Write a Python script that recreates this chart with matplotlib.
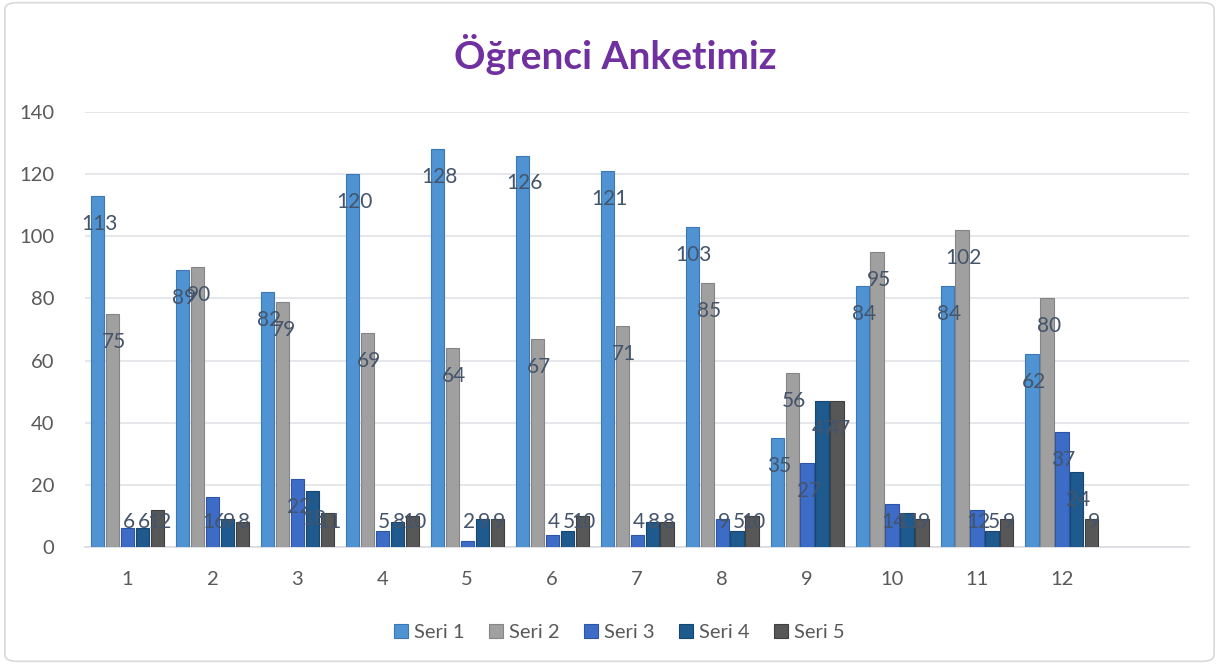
import matplotlib.pyplot as plt
import numpy as np
from matplotlib.patches import FancyBboxPatch

plt.rcParams["font.family"] = ["Lato", "DejaVu Sans"]

categories = ["1", "2", "3", "4", "5", "6", "7", "8", "9", "10", "11", "12"]
seri1 = [113, 89, 82, 120, 128, 126, 121, 103, 35, 84, 84, 62]
seri2 = [75, 90, 79, 69, 64, 67, 71, 85, 56, 95, 102, 80]
seri3 = [6, 16, 22, 5, 2, 4, 4, 9, 27, 14, 12, 37]
seri4 = [6, 9, 18, 8, 9, 5, 8, 5, 47, 11, 5, 24]
seri5 = [12, 8, 11, 10, 9, 10, 8, 10, 47, 9, 9, 9]
series_names = ["Seri 1", "Seri 2", "Seri 3", "Seri 4", "Seri 5"]

colors = ["#4f93d3", "#a0a0a0", "#3d6cc6", "#1e5a8e", "#575757"]
edges = ["#3b78b5", "#858585", "#2d55a3", "#17466f", "#404040"]
text_color = "#44546a"

fig = plt.figure(figsize=(12.19, 6.64), dpi=100)
ax = fig.add_axes([0.0697, 0.1762, 0.906, 0.6551])

x = np.arange(len(categories))
slot = 0.176
width = 0.155
for i, (name, vals) in enumerate(zip(series_names, [seri1, seri2, seri3, seri4, seri5])):
    pos = x + (i - 2) * slot
    ax.bar(pos, vals, width, color=colors[i], edgecolor=edges[i], linewidth=0.8,
           label=name, zorder=3)
    for p, v in zip(pos, vals):
        ax.text(p + 0.02, max(v - 9, 8), str(v), ha="center", va="center",
                fontsize=15, color=text_color, zorder=4)

ax.set_ylim(0, 140)
ax.set_xlim(-0.5, len(categories) + 0.5)
ax.set_yticks(range(0, 141, 20))
ax.set_xticks(x)
ax.set_xticklabels(categories)
ax.tick_params(axis="both", length=0, labelsize=14.5, labelcolor="#595959")
ax.tick_params(axis="x", pad=17)
ax.tick_params(axis="y", pad=22)
ax.grid(axis="y", color="#e0e3e8", linewidth=1.2, zorder=0)
for s in ["left", "right", "top"]:
    ax.spines[s].set_visible(False)
ax.spines["bottom"].set_color("#d9dce1")
ax.spines["bottom"].set_linewidth(1.2)

fig.text(0.505, 0.918, "Öğrenci Anketimiz", ha="center", va="center",
         fontsize=28, fontweight="bold", color="#7030a0")

leg = fig.legend(loc="center", bbox_to_anchor=(0.508, 0.048), ncol=5, frameon=False,
                 fontsize=14.5, handlelength=0.7, handleheight=0.7, handletextpad=0.3,
                 columnspacing=1.2)
for t in leg.get_texts():
    t.set_color("#595959")

border = FancyBboxPatch((0.004, 0.004), 0.992, 0.992, boxstyle="round,pad=0,rounding_size=0.01",
                        transform=fig.transFigure, fill=False, edgecolor="#d9d9d9", linewidth=1.2)
fig.patches.append(border)

fig.savefig("out.png", dpi=100)
